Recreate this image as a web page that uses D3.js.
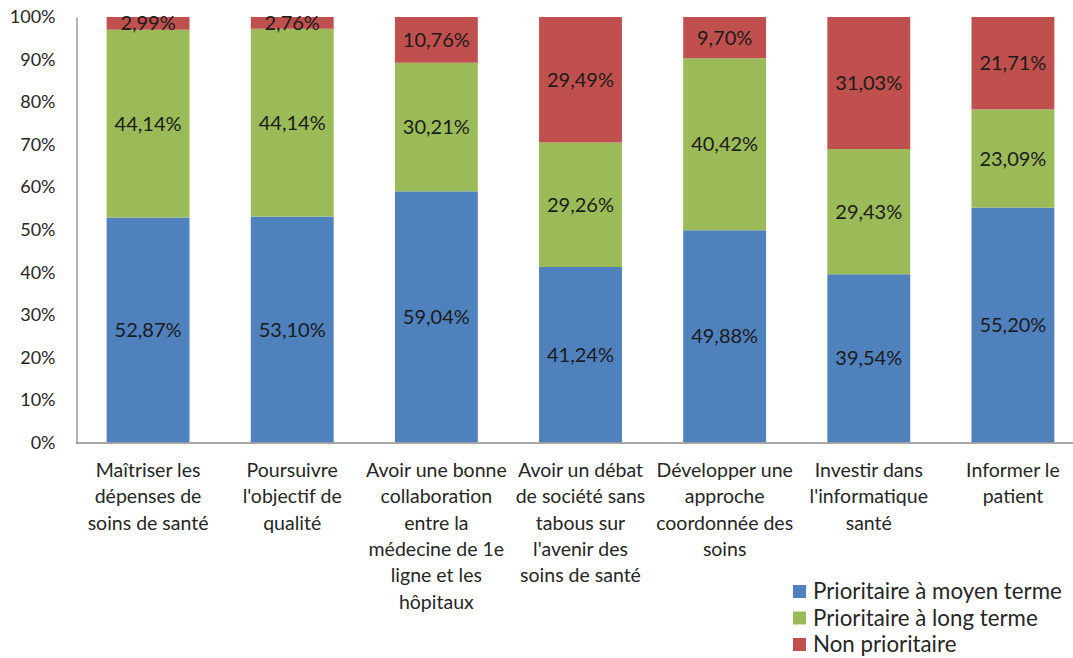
<!DOCTYPE html>
<html>
<head>
<meta charset="utf-8">
<script src="https://cdn.jsdelivr.net/npm/d3@7"></script>
<style>
  html, body { margin: 0; padding: 0; background: #fff; }
  svg { display: block; font-family: Lato, "Open Sans", sans-serif; }
</style>
</head>
<body>
<svg id="chart" width="1073" height="658"></svg>
<script>
// Priorités de santé — répartition par niveau de priorité (%)
const categories = [
  "Maîtriser les\ndépenses de\nsoins de santé",
  "Poursuivre\nl'objectif de\nqualité",
  "Avoir une bonne\ncollaboration\nentre la\nmédecine de 1e\nligne et les\nhôpitaux",
  "Avoir un débat\nde société sans\ntabous sur\nl'avenir des\nsoins de santé",
  "Développer une\napproche\ncoordonnée des\nsoins",
  "Investir dans\nl'informatique\nsanté",
  "Informer le\npatient"
];
const seriesNames = ["Prioritaire à moyen terme", "Prioritaire à long terme", "Non prioritaire"];
const moyenTerme = [52.87, 53.10, 59.04, 41.24, 49.88, 39.54, 55.20];
const longTerme  = [44.14, 44.14, 30.21, 29.26, 40.42, 29.43, 23.09];
const nonPrio    = [2.99, 2.76, 10.76, 29.49, 9.70, 31.03, 21.71];
const yTicks = [0, 10, 20, 30, 40, 50, 60, 70, 80, 90, 100];
const colors = ["#4F81BD", "#9BBB59", "#C0504D"];

const series = [moyenTerme, longTerme, nonPrio];
const rows = categories.map((c, i) => {
  const r = { cat: c };
  seriesNames.forEach((s, k) => { r[s] = series[k][i]; });
  return r;
});

const svg = d3.select("#chart");
const x = d3.scaleBand().domain(categories).range([76, 1085]).paddingInner(0.425).paddingOuter(0.2125);
const y = d3.scaleLinear().domain([0, 100]).range([442.5, 17]);

const fmt = v => v.toFixed(2).replace(".", ",") + "%";

// stacked segments
const stack = d3.stack().keys(seriesNames).offset(d3.stackOffsetExpand);
const stacked = stack(rows);

const layers = svg.append("g").selectAll("g")
  .data(stacked).join("g")
  .attr("fill", (d, k) => colors[k]);

layers.selectAll("rect")
  .data(d => d.map(p => ({ p, key: d.key })))
  .join("rect")
  .attr("x", d => x(d.p.data.cat))
  .attr("width", x.bandwidth())
  .attr("y", d => y(d.p[1] * 100))
  .attr("height", d => y(d.p[0] * 100) - y(d.p[1] * 100));

// value labels centred in each segment
layers.selectAll("text")
  .data(d => d.map(p => ({ p, key: d.key })))
  .join("text")
  .attr("x", d => x(d.p.data.cat) + x.bandwidth() / 2)
  .attr("y", d => y((d.p[0] + d.p[1]) / 2 * 100))
  .attr("dy", "0.35em")
  .attr("text-anchor", "middle")
  .attr("fill", "#1b1b1b")
  .attr("font-size", 20)
  .text(d => fmt(d.p.data[d.key]));

// axes
const yAxis = d3.axisLeft(y).tickValues(yTicks).tickSize(0).tickPadding(21).tickFormat(d => d + "%");
const gy = svg.append("g").attr("transform", "translate(76.5,0)").call(yAxis);
gy.select(".domain").attr("stroke", "#8c8c8c").attr("stroke-width", 1.3);
gy.selectAll("text").attr("font-size", 18).attr("fill", "#262626").attr("font-family", "Lato, sans-serif");

const xAxis = d3.axisBottom(x).tickSize(0).tickFormat("");
const gx = svg.append("g").attr("transform", "translate(0,442.5)").call(xAxis);
gx.select(".domain").attr("stroke", "#8c8c8c").attr("stroke-width", 1.3).attr("d", "M76,0.5H1073");

// category labels, one tspan per line
const catG = svg.append("g");
categories.forEach(c => {
  const t = catG.append("text")
    .attr("text-anchor", "middle")
    .attr("font-size", 19.5)
    .attr("fill", "#262626")
    .attr("x", x(c) + x.bandwidth() / 2)
    .attr("y", 477);
  c.split("\n").forEach((line, i) => {
    t.append("tspan").attr("x", x(c) + x.bandwidth() / 2).attr("dy", i === 0 ? 0 : 26.3).text(line);
  });
});

// legend
const leg = svg.append("g").attr("transform", "translate(793,585)");
seriesNames.forEach((s, k) => {
  const g = leg.append("g").attr("transform", `translate(0,${k * 26.5})`);
  g.append("rect").attr("width", 13).attr("height", 13).attr("fill", colors[k]);
  g.append("text").attr("x", 20).attr("y", 6.5).attr("dy", "0.35em")
    .attr("font-size", 22.3).attr("fill", "#262626").text(s);
});
</script>
</body>
</html>
